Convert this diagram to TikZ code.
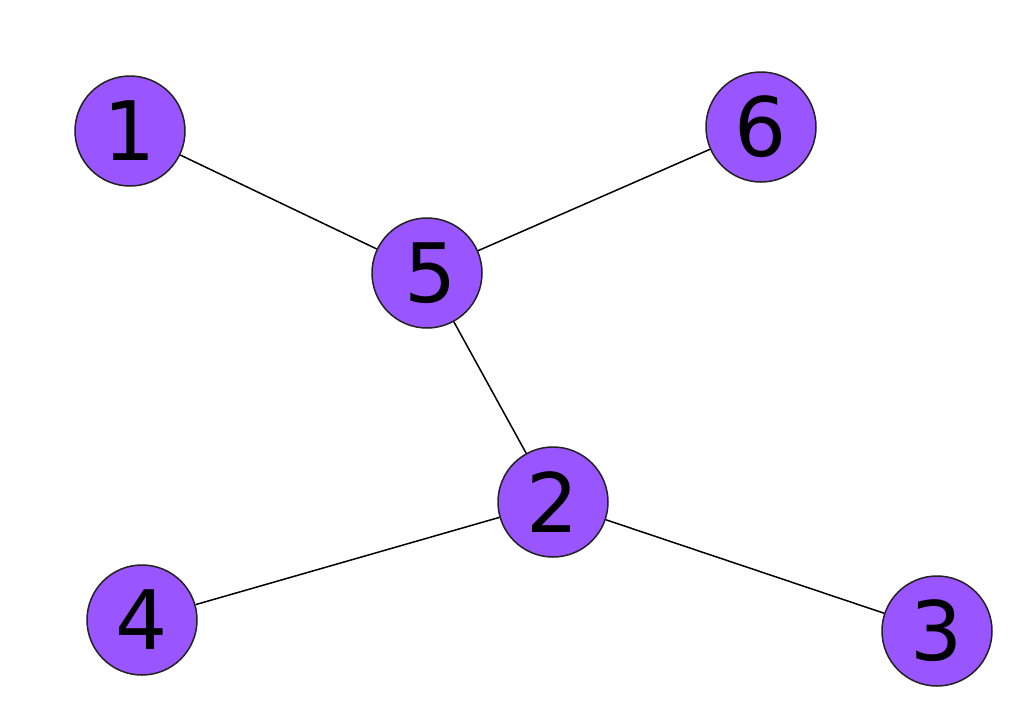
\documentclass[tikz,border=0pt]{standalone}
\usepackage{fontspec}
\setmainfont{DejaVu Sans}
\definecolor{nodefill}{HTML}{9955FF}
\definecolor{nodeedge}{HTML}{222222}
\begin{document}
\begin{tikzpicture}[x=1pt,y=-1pt,
  vert/.style={circle,draw=nodeedge,line width=1.5pt,fill=nodefill,minimum size=110pt,inner sep=0pt,font=\fontsize{82}{82}\selectfont},
  edge/.style={line width=1.5pt,black}]
\useasboundingbox (0,0) rectangle (1031,723);
\node[vert] (n1) at (130,131) {1};
\node[vert] (n6) at (761,127) {6};
\node[vert] (n5) at (427,273) {\hspace{8pt}5};
\node[vert] (n2) at (553,502) {2};
\node[vert] (n4) at (142,620) {4};
\node[vert] (n3) at (937,631) {3};
\draw[edge] (n1) -- (n5);
\draw[edge] (n6) -- (n5);
\draw[edge] (n5) -- (n2);
\draw[edge] (n2) -- (n4);
\draw[edge] (n2) -- (n3);
\end{tikzpicture}
\end{document}
